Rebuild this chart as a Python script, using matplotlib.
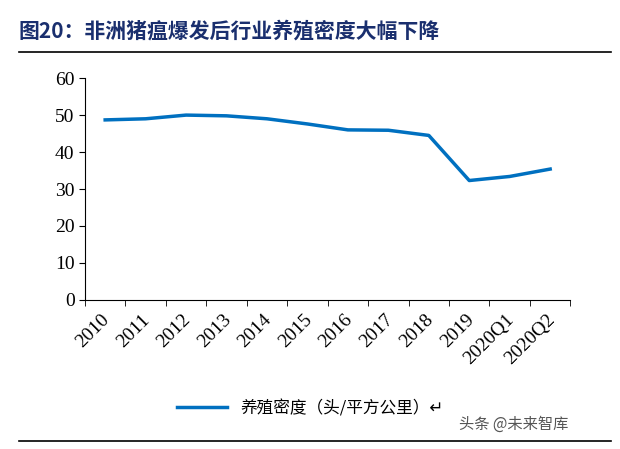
import matplotlib
matplotlib.use('Agg')
import matplotlib.pyplot as plt
from matplotlib.lines import Line2D

plt.rcParams['font.family'] = ['Liberation Serif', 'Noto Sans CJK SC', 'DejaVu Sans']

categories = ['2010', '2011', '2012', '2013', '2014', '2015', '2016', '2017',
              '2018', '2019', '2020Q1', '2020Q2']
density = [48.7, 49.0, 50.0, 49.8, 49.0, 47.6, 46.0, 45.9, 44.5, 32.3, 33.4, 35.4]

fig = plt.figure(figsize=(6.2, 4.49), dpi=100)
ax = fig.add_axes([0.137, 0.332, 0.783, 0.494])

x = range(len(categories))
ax.plot(x, density, color='#0070C0', linewidth=2.5)
ax.set_xlim(-0.5, len(categories) - 0.5)
ax.set_ylim(0, 60)
ax.set_yticks(range(0, 61, 10))
ax.set_xticks([i - 0.1 for i in x])
ax.set_xticklabels(categories, rotation=45, ha='right', rotation_mode='anchor')
ax.tick_params(axis='both', labelsize=14, direction='out', length=4)
ax.tick_params(axis='x', length=0, pad=8)
ax.set_xticks([i - 0.5 for i in range(len(categories) + 1)], minor=True)
ax.tick_params(axis='x', which='minor', length=4)
for side in ['top', 'right']:
    ax.spines[side].set_visible(False)

fig.text(0.03, 0.93, '图20：非洲猪瘟爆发后行业养殖密度大幅下降', fontsize=15,
         fontweight='bold', color='#1A2F6E', va='center',
         family=['Noto Sans CJK SC'])
fig.add_artist(Line2D([0.03, 0.985], [0.885, 0.885], color='black', lw=1.2))
fig.add_artist(Line2D([0.03, 0.985], [0.018, 0.018], color='black', lw=1.2))

handle = Line2D([], [], color='#0070C0', lw=2.5)
fig.legend([handle], ['养殖密度（头/平方公里）↵'], loc='center',
           bbox_to_anchor=(0.5, 0.09), frameon=False,
           prop={'family': ['Noto Sans CJK SC', 'DejaVu Sans'], 'size': 12},
           handlelength=3)

fig.text(0.74, 0.045, '头条 @未来智库', fontsize=11, color='#555555',
         family=['Noto Sans CJK SC'])

fig.savefig('out.png', dpi=100)
